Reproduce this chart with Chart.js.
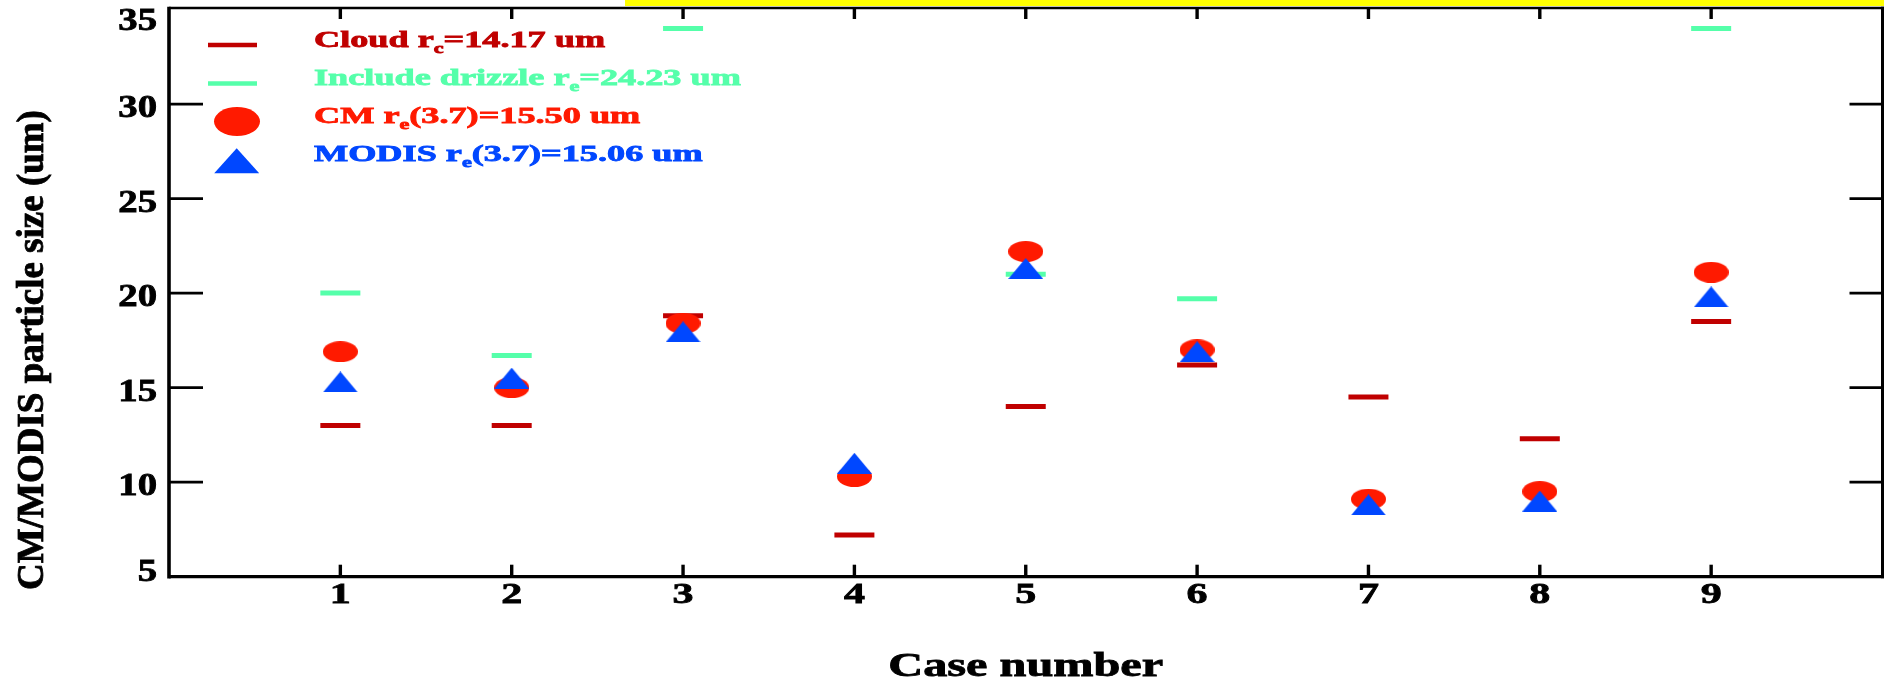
<!DOCTYPE html>
<html>
<head>
<meta charset="utf-8">
<title>CM/MODIS particle size by case</title>
<script src="https://cdn.jsdelivr.net/npm/chart.js@4.4.1/dist/chart.umd.min.js"></script>
<style>
  html, body { margin: 0; padding: 0; background: #ffffff; }
  canvas { display: block; }
</style>
</head>
<body>
<canvas id="chart" width="1884" height="679"></canvas>
<script>
// ---- data -------------------------------------------------------------
// Case numbers along the x axis
const cases = [1, 2, 3, 4, 5, 6, 7, 8, 9];
// Effective radius per case (um); null = no drizzle retrieval for that case
const cloudRe   = [13.0, 13.0, 18.8, 7.2, 14.0, 16.2, 14.5, 12.3, 18.5];
const drizzleRe = [20.0, 16.7, 34.0, null, 21.0, 19.7, null, null, 34.0];
const cmRe      = [16.9, 15.0, 18.4, 10.3, 22.2, 17.0, 9.1, 9.5, 21.1];
const modisRe   = [15.3, 15.5, 17.95, 11.0, 21.3, 16.9, 8.8, 9.0, 19.8];
// Axis tick values
const xTickValues = cases;
const yTickValues = [5, 10, 15, 20, 25, 30, 35];
// Series names shown in the key
const seriesNames = ['Cloud', 'Include drizzle', 'CM', 'MODIS'];

// ---- styling ------------------------------------------------------------
const COLORS = {
  cloud: '#C00000',
  drizzle: '#55FFAA',
  cm: '#FF1A00',
  modis: '#0047FF'
};
const FONT = '"Liberation Serif", "Times New Roman", serif';
const INK = 0.8; // extra stroke that thickens the bold serif glyphs

function mean(arr) {
  const v = arr.filter(x => x !== null);
  return v.reduce((a, b) => a + b, 0) / v.length;
}

function toPoints(values) {
  return cases
    .map((c, i) => ({ x: c, y: values[i] }))
    .filter(p => p.y !== null);
}

// Flattened marker sprites (wide ellipse / wide triangle)
function ellipseSprite(w, h, color) {
  const c = document.createElement('canvas');
  c.width = w; c.height = h;
  const g = c.getContext('2d');
  g.fillStyle = color;
  g.beginPath();
  g.ellipse(w / 2, h / 2, w / 2, h / 2, 0, 0, Math.PI * 2);
  g.fill();
  return c;
}
function triangleSprite(w, h, color) {
  const c = document.createElement('canvas');
  c.width = w; c.height = h;
  const g = c.getContext('2d');
  g.fillStyle = color;
  g.beginPath();
  g.moveTo(w / 2, 0);
  g.lineTo(w, h);
  g.lineTo(0, h);
  g.closePath();
  g.fill();
  return c;
}

function inkText(ctx, text, x, y) {
  ctx.fillText(text, x, y);
  ctx.lineWidth = INK;
  ctx.strokeText(text, x, y);
}

function stretchText(ctx, text, x, y, sx, align) {
  ctx.save();
  ctx.translate(x, y);
  ctx.scale(sx, 1);
  ctx.textAlign = align;
  ctx.textBaseline = 'alphabetic';
  ctx.strokeStyle = ctx.fillStyle;
  inkText(ctx, text, 0, 0);
  ctx.restore();
}

// Text with a subscript run, drawn with a horizontal stretch
function richText(ctx, parts, x, y, sx, color) {
  ctx.save();
  ctx.translate(x, y);
  ctx.scale(sx, 1);
  ctx.fillStyle = color;
  ctx.strokeStyle = color;
  ctx.textAlign = 'left';
  ctx.textBaseline = 'alphabetic';
  let cx = 0;
  for (const p of parts) {
    ctx.font = p.sub ? `700 14px ${FONT}` : `700 23px ${FONT}`;
    inkText(ctx, p.t, cx, p.sub ? 6 : 0);
    cx += ctx.measureText(p.t).width;
  }
  ctx.restore();
}

// ---- frame, ticks, labels, titles and key ---------------------------------
const framePlugin = {
  id: 'frame',
  beforeDraw(chart) {
    const ctx = chart.ctx;
    ctx.save();
    ctx.fillStyle = '#FFFF00';
    ctx.fillRect(625, 0, chart.width - 625, 6);
    ctx.restore();
  },
  afterDraw(chart) {
    const ctx = chart.ctx;
    const xs = chart.scales.x, ys = chart.scales.y;
    const L = chart.chartArea.left, R = chart.chartArea.right;
    const T = chart.chartArea.top, B = chart.chartArea.bottom;
    const top = T - 1.5;
    ctx.save();
    ctx.strokeStyle = '#000';
    ctx.lineCap = 'butt';

    // box
    ctx.lineWidth = 3.6;
    ctx.beginPath(); ctx.moveTo(L, top - 1.3); ctx.lineTo(L, B + 1.7); ctx.stroke();
    ctx.lineWidth = 3;
    ctx.beginPath(); ctx.moveTo(R, top - 1.3); ctx.lineTo(R, B + 1.5); ctx.stroke();
    ctx.lineWidth = 2.7;
    ctx.beginPath(); ctx.moveTo(L, top); ctx.lineTo(R + 1.5, top); ctx.stroke();
    ctx.lineWidth = 3.2;
    ctx.beginPath(); ctx.moveTo(L, B); ctx.lineTo(R + 1.5, B); ctx.stroke();

    // y ticks (inside, both sides)
    ctx.lineWidth = 2.7;
    for (const v of yTickValues) {
      if (v === ys.min || v === ys.max) continue;
      const y = ys.getPixelForValue(v);
      ctx.beginPath(); ctx.moveTo(L, y); ctx.lineTo(L + 34, y); ctx.stroke();
      ctx.beginPath(); ctx.moveTo(R, y); ctx.lineTo(R - 33, y); ctx.stroke();
    }
    // x ticks (inside, top and bottom)
    ctx.lineWidth = 3.4;
    for (const v of xTickValues) {
      const x = xs.getPixelForValue(v);
      ctx.beginPath(); ctx.moveTo(x, B); ctx.lineTo(x, B - 12); ctx.stroke();
      ctx.beginPath(); ctx.moveTo(x, top); ctx.lineTo(x, top + 11); ctx.stroke();
    }

    // tick labels
    ctx.fillStyle = '#000';
    ctx.font = `700 31px ${FONT}`;
    for (const v of yTickValues) {
      const y = ys.getPixelForValue(v);
      const base = Math.min(Math.max(y + 13, top + 22), B + 4.5);
      stretchText(ctx, String(v), 157, base, 1.25, 'right');
    }
    ctx.font = `700 30px ${FONT}`;
    for (const v of xTickValues) {
      const x = xs.getPixelForValue(v);
      stretchText(ctx, String(v), x, 603, 1.4, 'center');
    }

    // axis titles
    ctx.font = `700 34px ${FONT}`;
    stretchText(ctx, 'Case number', (L + R) / 2, 676, 1.42, 'center');
    ctx.save();
    ctx.font = `700 37px ${FONT}`;
    ctx.translate(42.5, 350);
    ctx.rotate(-Math.PI / 2);
    ctx.textAlign = 'center';
    ctx.textBaseline = 'alphabetic';
    ctx.fillStyle = '#000';
    ctx.strokeStyle = '#000';
    inkText(ctx, 'CM/MODIS particle size (um)', 0, 0);
    ctx.restore();

    // key
    const items = [
      { name: seriesNames[0], sub: 'c', tail: '', vals: cloudRe, color: COLORS.cloud, mark: 'dash' },
      { name: seriesNames[1], sub: 'e', tail: '', vals: drizzleRe, color: COLORS.drizzle, mark: 'dash' },
      { name: seriesNames[2], sub: 'e', tail: '(3.7)', vals: cmRe, color: COLORS.cm, mark: 'ellipse' },
      { name: seriesNames[3], sub: 'e', tail: '(3.7)', vals: modisRe, color: COLORS.modis, mark: 'triangle' }
    ];
    const baselines = [46.7, 85, 123.3, 160.7];
    items.forEach((it, i) => {
      const by = baselines[i];
      ctx.fillStyle = it.color;
      ctx.strokeStyle = it.color;
      if (it.mark === 'dash') {
        ctx.lineWidth = 4.5;
        ctx.beginPath(); ctx.moveTo(208, by - 1.6); ctx.lineTo(257, by - 1.6); ctx.stroke();
      } else if (it.mark === 'ellipse') {
        ctx.beginPath(); ctx.ellipse(237, 121.5, 23, 14.5, 0, 0, Math.PI * 2); ctx.fill();
      } else {
        ctx.beginPath();
        ctx.moveTo(236.7, 148.3); ctx.lineTo(259.2, 173.3); ctx.lineTo(214.2, 173.3);
        ctx.closePath(); ctx.fill();
      }
      const parts = [
        { t: it.name + ' r' },
        { t: it.sub, sub: true },
        { t: it.tail + '=' + mean(it.vals).toFixed(2) + ' um' }
      ];
      richText(ctx, parts, 314, by, 1.575, it.color);
    });
    ctx.restore();
  }
};

function build() {
  new Chart(document.getElementById('chart'), {
    type: 'scatter',
    data: {
      datasets: [
        {
          label: seriesNames[0], data: toPoints(cloudRe), order: 4,
          pointStyle: 'line', pointRadius: 20, pointHoverRadius: 20,
          pointBorderWidth: 5, pointHoverBorderWidth: 5,
          pointBorderColor: COLORS.cloud, pointBackgroundColor: COLORS.cloud
        },
        {
          label: seriesNames[1], data: toPoints(drizzleRe), order: 3,
          pointStyle: 'line', pointRadius: 20, pointHoverRadius: 20,
          pointBorderWidth: 5, pointHoverBorderWidth: 5,
          pointBorderColor: COLORS.drizzle, pointBackgroundColor: COLORS.drizzle
        },
        {
          label: seriesNames[2], data: toPoints(cmRe), order: 2,
          pointStyle: ellipseSprite(35, 21, COLORS.cm), pointRadius: 10,
          pointBorderColor: COLORS.cm, pointBackgroundColor: COLORS.cm
        },
        {
          label: seriesNames[3], data: toPoints(modisRe), order: 1,
          pointStyle: triangleSprite(35, 21, COLORS.modis), pointRadius: 10,
          pointBorderColor: COLORS.modis, pointBackgroundColor: COLORS.modis
        }
      ]
    },
    options: {
      responsive: false,
      animation: false,
      devicePixelRatio: 1,
      events: [],
      layout: {
        autoPadding: false,
        padding: { left: 169, right: 1.5, top: 9.5, bottom: 102.3 }
      },
      scales: {
        x: { type: 'linear', min: 0, max: 10, display: false },
        y: { type: 'linear', min: 5, max: 35, display: false }
      },
      plugins: {
        legend: { display: false },
        tooltip: { enabled: false }
      }
    },
    plugins: [framePlugin]
  });
}

if (document.fonts && document.fonts.load) {
  document.fonts.load(`700 28px ${FONT}`).then(build, build);
} else {
  build();
}
</script>
</body>
</html>
